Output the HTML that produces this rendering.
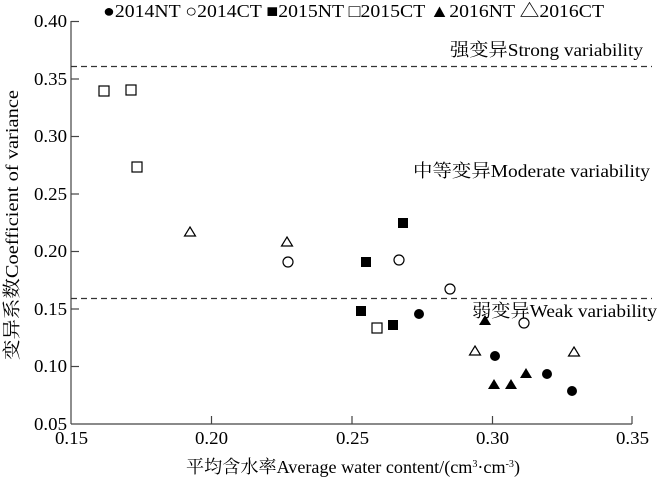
<!DOCTYPE html>
<html><head><meta charset="utf-8"><style>
html,body{margin:0;padding:0;background:#fff;}
svg{display:block;}
text{font-family:"Liberation Serif","Noto Serif CJK SC","Noto Sans CJK SC",serif;fill:#000;}
</style></head><body>
<svg width="658" height="478" viewBox="0 0 658 478" xmlns="http://www.w3.org/2000/svg">
<g stroke="#444" stroke-width="1.2" fill="none">
<line x1="71" y1="21" x2="71" y2="424"/>
<line x1="71" y1="424" x2="632" y2="424"/>
<line x1="211.5" y1="424" x2="211.5" y2="416"/>
<line x1="352" y1="424" x2="352" y2="416"/>
<line x1="492.5" y1="424" x2="492.5" y2="416"/>
<line x1="632" y1="424" x2="632" y2="416"/>
<line x1="71" y1="21.5" x2="79" y2="21.5"/>
<line x1="71" y1="79" x2="79" y2="79"/>
<line x1="71" y1="136.5" x2="79" y2="136.5"/>
<line x1="71" y1="194" x2="79" y2="194"/>
<line x1="71" y1="251.5" x2="79" y2="251.5"/>
<line x1="71" y1="309" x2="79" y2="309"/>
<line x1="71" y1="366.5" x2="79" y2="366.5"/>
</g>
<g stroke="#333" stroke-width="1.2" stroke-dasharray="6,4">
<line x1="71" y1="66.5" x2="652" y2="66.5"/>
<line x1="71" y1="298.5" x2="652" y2="298.5"/>
</g>
<g font-size="18" text-anchor="end">
<text x="67" y="27" textLength="33" lengthAdjust="spacingAndGlyphs">0.40</text>
<text x="67" y="85" textLength="33" lengthAdjust="spacingAndGlyphs">0.35</text>
<text x="67" y="142" textLength="33" lengthAdjust="spacingAndGlyphs">0.30</text>
<text x="67" y="200" textLength="33" lengthAdjust="spacingAndGlyphs">0.25</text>
<text x="67" y="257" textLength="33" lengthAdjust="spacingAndGlyphs">0.20</text>
<text x="67" y="315" textLength="33" lengthAdjust="spacingAndGlyphs">0.15</text>
<text x="67" y="372" textLength="33" lengthAdjust="spacingAndGlyphs">0.10</text>
<text x="67" y="430" textLength="33" lengthAdjust="spacingAndGlyphs">0.05</text>
</g>
<g font-size="18">
<text x="55" y="444" textLength="33" lengthAdjust="spacingAndGlyphs">0.15</text>
<text x="195" y="444" textLength="33" lengthAdjust="spacingAndGlyphs">0.20</text>
<text x="336" y="444" textLength="33" lengthAdjust="spacingAndGlyphs">0.25</text>
<text x="476" y="444" textLength="33" lengthAdjust="spacingAndGlyphs">0.30</text>
<text x="616" y="444" textLength="33" lengthAdjust="spacingAndGlyphs">0.35</text>
<text x="186" y="473" textLength="334" lengthAdjust="spacingAndGlyphs">平均含水率Average water content/(cm<tspan font-size="10" dy="-6">3</tspan><tspan dy="6">·cm</tspan><tspan font-size="10" dy="-6">-3</tspan><tspan dy="6">)</tspan></text>
<text transform="translate(18,360) rotate(-90)" textLength="270" lengthAdjust="spacingAndGlyphs">变异系数Coefficient of variance</text>
</g>
<text x="103" y="17" font-size="18" textLength="501" lengthAdjust="spacingAndGlyphs">●2014NT ○2014CT ■2015NT □2015CT ▲2016NT  △2016CT</text>
<g font-size="18">
<text x="450" y="56" textLength="193" lengthAdjust="spacingAndGlyphs">强变异Strong variability</text>
<text x="413" y="177" textLength="237" lengthAdjust="spacingAndGlyphs">中等变异Moderate variability</text>
<text x="472" y="317" textLength="185" lengthAdjust="spacingAndGlyphs">弱变异Weak variability</text>
</g>
<g fill="#fff" stroke="#000" stroke-width="1.2">
<rect x="99" y="86" width="10" height="10"/>
<rect x="126" y="85" width="10" height="10"/>
<rect x="132" y="162" width="10" height="10"/>
<rect x="372" y="323" width="10" height="10"/>
<circle cx="288" cy="262" r="5"/>
<circle cx="399" cy="260" r="5"/>
<circle cx="450" cy="289" r="5"/>
<circle cx="524" cy="323" r="5"/>
<polygon points="190,227 195.5,236 184.5,236"/>
<polygon points="287,237 292.5,246 281.5,246"/>
<polygon points="475,346 480.5,355 469.5,355"/>
<polygon points="574,347 579.5,356 568.5,356"/>
</g>
<g fill="#000">
<rect x="398" y="218" width="10" height="10"/>
<rect x="361" y="257" width="10" height="10"/>
<rect x="356" y="306" width="10" height="10"/>
<rect x="388" y="320" width="10" height="10"/>
<circle cx="419" cy="314" r="5"/>
<circle cx="495" cy="356" r="5"/>
<circle cx="547" cy="374" r="5"/>
<circle cx="572" cy="391" r="5"/>
<polygon points="485,315 491,325 479,325"/>
<polygon points="494,379 500,389 488,389"/>
<polygon points="511,379 517,389 505,389"/>
<polygon points="526,368 532,378 520,378"/>
</g>
</svg>
</body></html>
